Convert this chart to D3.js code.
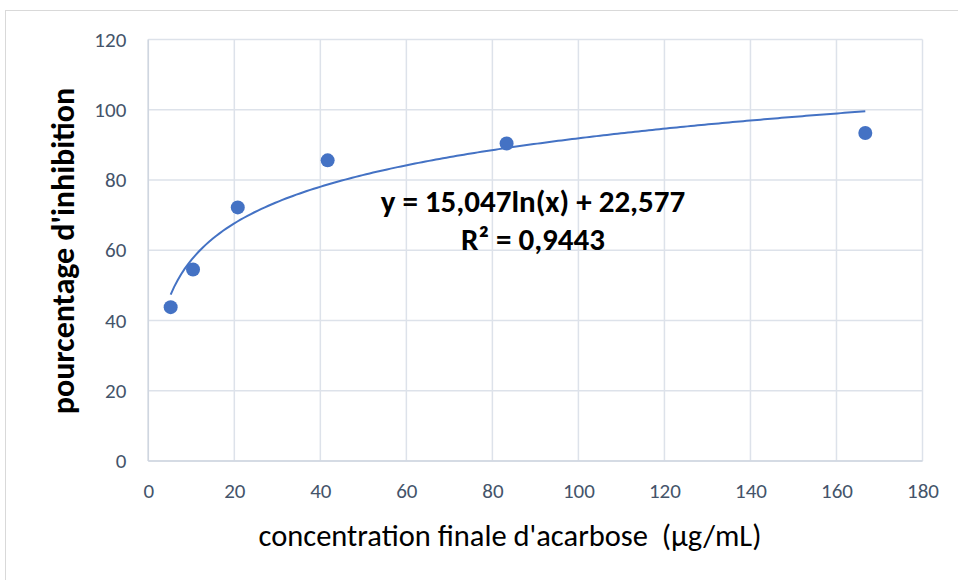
<!DOCTYPE html>
<html>
<head>
<meta charset="utf-8">
<script src="https://cdn.jsdelivr.net/npm/d3@7"></script>
<style>
  html, body { margin: 0; padding: 0; background: #ffffff; }
  svg { display: block; }
  text { font-family: Carlito, Calibri, Lato, "Noto Sans", sans-serif; }
</style>
</head>
<body>
<svg id="chart" width="958" height="580"></svg>
<script>
// Acarbose concentration (µg/mL) and measured inhibition (%)
const concentrations = [5.2, 10.4, 20.8, 41.7, 83.3, 166.7];
const inhibition = [43.8, 54.5, 72.2, 85.6, 90.4, 93.4];

// Logarithmic trend line: y = a ln(x) + b
const trendA = 15.047;
const trendB = 22.577;
const trendLabel = "y = 15,047ln(x) + 22,577";
const r2Label = "R² = 0,9443";

const xTicks = [0, 20, 40, 60, 80, 100, 120, 140, 160, 180];
const yTicks = [0, 20, 40, 60, 80, 100, 120];

const xTitle = "concentration finale d'acarbose  (µg/mL)";
const yTitle = "pourcentage d'inhibition";

const svg = d3.select("#chart");

// chart frame
svg.append("rect")
  .attr("x", 5.5).attr("y", 10.5)
  .attr("width", 960).attr("height", 580)
  .attr("fill", "#ffffff")
  .attr("stroke", "#d9d9d9").attr("stroke-width", 1);

const x = d3.scaleLinear().domain([0, 180]).range([148.3, 922.5]);
const y = d3.scaleLinear().domain([0, 120]).range([461, 39.5]);

const grid = svg.append("g");
grid.selectAll("line.v").data(xTicks).join("line")
  .attr("x1", d => x(d)).attr("x2", d => x(d))
  .attr("y1", y(0)).attr("y2", y(120))
  .attr("stroke", "#dde2ea").attr("stroke-width", 1.5);
grid.selectAll("line.h").data(yTicks).join("line")
  .attr("x1", x(0)).attr("x2", x(180))
  .attr("y1", d => y(d)).attr("y2", d => y(d))
  .attr("stroke", "#dde2ea").attr("stroke-width", 1.5);

// axes (labels only, lines come from the grid)
const xAxis = svg.append("g")
  .attr("transform", `translate(0,${y(0)})`)
  .call(d3.axisBottom(x).tickValues(xTicks).tickSize(0).tickPadding(22));
const yAxis = svg.append("g")
  .attr("transform", `translate(${x(0)},0)`)
  .call(d3.axisLeft(y).tickValues(yTicks).tickSize(0).tickPadding(22));
[xAxis, yAxis].forEach(a => {
  a.select(".domain").remove();
  a.selectAll("text")
    .attr("fill", "#44546a")
    .style("font-size", "21px")
    .style("font-family", "Carlito, Calibri, Lato, 'Noto Sans', sans-serif");
});
svg.append("line")
  .attr("x1", x(0)).attr("x2", x(180)).attr("y1", y(0)).attr("y2", y(0))
  .attr("stroke", "#cfd6e0").attr("stroke-width", 1.5);
svg.append("line")
  .attr("x1", x(0)).attr("x2", x(0)).attr("y1", y(0)).attr("y2", y(120))
  .attr("stroke", "#cfd6e0").attr("stroke-width", 1.5);

// trend line sampled along the concentration range
const xs = d3.range(200).map(i => concentrations[0] + (concentrations[concentrations.length - 1] - concentrations[0]) * i / 199);
svg.append("path")
  .datum(xs)
  .attr("fill", "none")
  .attr("stroke", "#4472c4")
  .attr("stroke-width", 2)
  .attr("d", d3.line().x(d => x(d)).y(d => y(trendA * Math.log(d) + trendB)));

// measured points
svg.selectAll("circle.pt").data(concentrations).join("circle")
  .attr("class", "pt")
  .attr("cx", d => x(d))
  .attr("cy", (d, i) => y(inhibition[i]))
  .attr("r", 7)
  .attr("fill", "#4472c4");

// trend equation
svg.append("text")
  .attr("x", 533).attr("y", 212)
  .attr("text-anchor", "middle")
  .attr("fill", "#000")
  .style("font-size", "31px").style("font-weight", "bold")
  .text(trendLabel);
svg.append("text")
  .attr("x", 533).attr("y", 250)
  .attr("text-anchor", "middle")
  .attr("fill", "#000")
  .style("font-size", "31px").style("font-weight", "bold")
  .text(r2Label);

// axis titles
svg.append("text")
  .attr("x", 510).attr("y", 546)
  .attr("text-anchor", "middle")
  .attr("fill", "#000")
  .style("font-size", "30.5px")
  .style("white-space", "pre")
  .text(xTitle);
svg.append("text")
  .attr("transform", "translate(74,251) rotate(-90)")
  .attr("text-anchor", "middle")
  .attr("fill", "#000")
  .style("font-size", "32px").style("font-weight", "bold")
  .text(yTitle);
</script>
</body>
</html>
